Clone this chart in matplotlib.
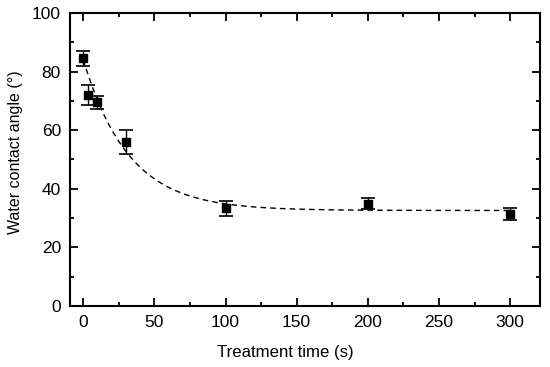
import numpy as np
import matplotlib
matplotlib.use("Agg")
import matplotlib.pyplot as plt
from matplotlib.ticker import MultipleLocator

plt.rcParams['font.family'] = ['Liberation Sans', 'DejaVu Sans']

time_s = [0, 3, 10, 30, 100, 200, 300]
angle = [84.5, 72.0, 69.5, 56.0, 33.3, 34.9, 31.3]
err = [2.5, 3.4, 2.3, 4.0, 2.5, 1.9, 2.0]

# exponential decay fit parameters
fit_y0 = 32.6
fit_A = 51.5
fit_tau = 32.0

fig = plt.figure(figsize=(5.5, 3.67), dpi=100)
ax = fig.add_axes([0.1273, 0.1662, 0.8545, 0.7984])

t = np.linspace(0, 300, 400)
ax.plot(t, fit_y0 + fit_A * np.exp(-t / fit_tau), 'k--', lw=1.0, dashes=(4, 3))
ax.errorbar(time_s, angle, yerr=err, fmt='s', color='black', ms=6.3,
            capsize=5, capthick=1.2, elinewidth=1.0)

ax.set_xlim(-9.3, 321)
ax.set_ylim(0, 100)
ax.xaxis.set_major_locator(MultipleLocator(50))
ax.xaxis.set_minor_locator(MultipleLocator(25))
ax.yaxis.set_major_locator(MultipleLocator(20))
ax.yaxis.set_minor_locator(MultipleLocator(10))
ax.tick_params(which='both', direction='in', top=True, right=True, width=1.3,
               labelsize=12.5, pad=6.5)
ax.tick_params(which='major', length=6)
ax.tick_params(which='minor', length=3)
for s in ax.spines.values():
    s.set_linewidth(1.5)

ax.set_xlabel('Treatment time (s)', fontsize=12.1, va='center')
ax.set_ylabel('Water contact angle (°)', fontsize=11.5, va='center')
ax.xaxis.set_label_coords(0.459, -0.157)
ax.yaxis.set_label_coords(-0.117, 0.525)

fig.savefig('out.png', dpi=100)
